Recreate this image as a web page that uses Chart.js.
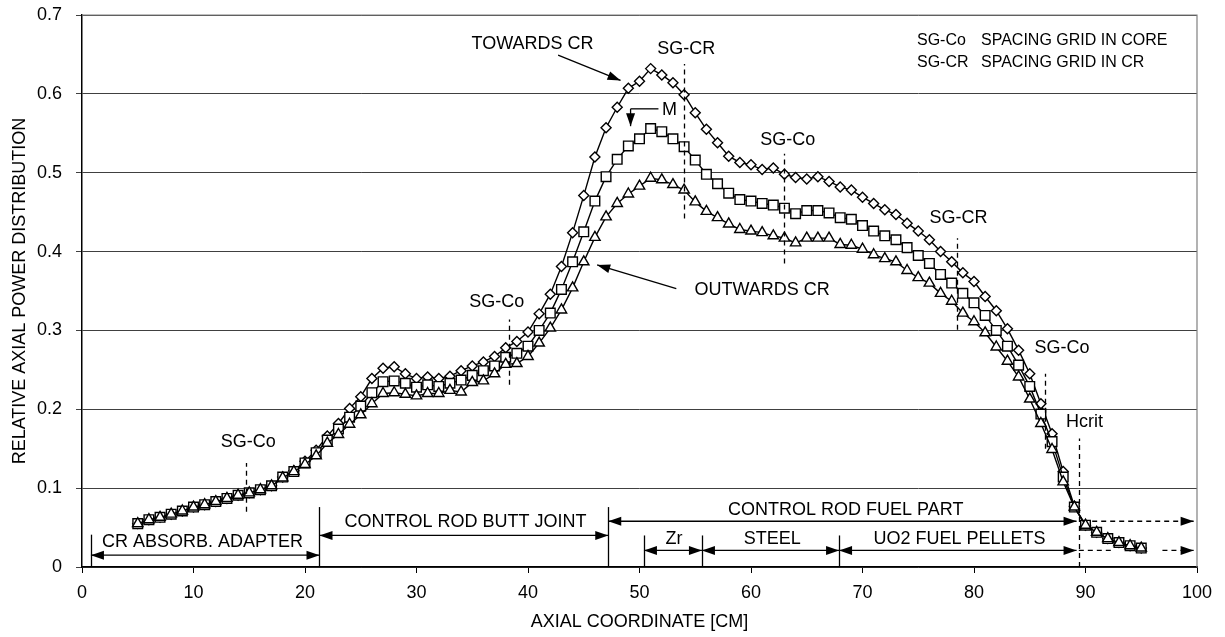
<!DOCTYPE html>
<html lang="en">
<head>
<meta charset="UTF-8" />
<title>Relative axial power distribution</title>
<script src="https://cdn.jsdelivr.net/npm/chart.js@4"></script>
<style>
  html, body { margin: 0; padding: 0; background: #fff; }
  #wrap { width: 1225px; height: 637px; }
</style>
</head>
<body>
<div id="wrap"><canvas id="powerChart" width="1225" height="637"></canvas></div>
<script>
  // axial coordinate of each measured point [cm]
  const axialCoord = [5, 6, 7, 8, 9, 10, 11, 12, 13, 14, 15, 16, 17, 18, 19, 20, 21, 22, 23, 24,
    25, 26, 27, 28, 29, 30, 31, 32, 33, 34, 35, 36, 37, 38, 39, 40, 41, 42, 43, 44,
    45, 46, 47, 48, 49, 50, 51, 52, 53, 54, 55, 56, 57, 58, 59, 60, 61, 62, 63, 64,
    65, 66, 67, 68, 69, 70, 71, 72, 73, 74, 75, 76, 77, 78, 79, 80, 81, 82, 83, 84,
    85, 86, 87, 88, 89, 90, 91, 92, 93, 94, 95];

  // diamonds - side towards the control rod
  const towardsCR = [0.055, 0.060, 0.063, 0.067, 0.071, 0.076, 0.079, 0.083, 0.087, 0.091,
    0.094, 0.098, 0.103, 0.114, 0.122, 0.134, 0.148, 0.166, 0.182, 0.201,
    0.216, 0.239, 0.252, 0.254, 0.245, 0.239, 0.241, 0.239, 0.242, 0.249,
    0.255, 0.260, 0.267, 0.278, 0.286, 0.298, 0.321, 0.346, 0.381, 0.424,
    0.471, 0.520, 0.557, 0.583, 0.607, 0.616, 0.632, 0.624, 0.614, 0.599,
    0.576, 0.555, 0.538, 0.521, 0.513, 0.510, 0.504, 0.506, 0.498, 0.494,
    0.492, 0.495, 0.489, 0.482, 0.478, 0.469, 0.461, 0.453, 0.447, 0.436,
    0.426, 0.415, 0.400, 0.387, 0.373, 0.362, 0.343, 0.325, 0.302, 0.275,
    0.245, 0.207, 0.169, 0.121, 0.077, 0.053, 0.044, 0.036, 0.031, 0.027, 0.024];

  // squares - middle (M)
  const middle = [0.055, 0.060, 0.063, 0.067, 0.071, 0.076, 0.079, 0.083, 0.087, 0.091,
    0.094, 0.098, 0.103, 0.114, 0.121, 0.132, 0.145, 0.161, 0.175, 0.190,
    0.204, 0.221, 0.235, 0.236, 0.233, 0.228, 0.231, 0.229, 0.233, 0.237,
    0.243, 0.249, 0.255, 0.266, 0.271, 0.280, 0.300, 0.322, 0.352, 0.387,
    0.425, 0.464, 0.495, 0.517, 0.534, 0.543, 0.556, 0.552, 0.543, 0.533,
    0.516, 0.498, 0.486, 0.474, 0.466, 0.464, 0.461, 0.459, 0.455, 0.448,
    0.452, 0.452, 0.449, 0.443, 0.441, 0.433, 0.426, 0.420, 0.415, 0.405,
    0.395, 0.385, 0.371, 0.360, 0.347, 0.335, 0.319, 0.300, 0.280, 0.256,
    0.229, 0.194, 0.159, 0.114, 0.076, 0.053, 0.044, 0.036, 0.031, 0.027, 0.024];

  // triangles - side outwards from the control rod
  const outwardsCR = [0.055, 0.060, 0.063, 0.067, 0.071, 0.076, 0.079, 0.083, 0.087, 0.091,
    0.094, 0.098, 0.103, 0.113, 0.121, 0.130, 0.141, 0.157, 0.168, 0.181,
    0.193, 0.207, 0.220, 0.221, 0.219, 0.217, 0.220, 0.220, 0.224, 0.222,
    0.234, 0.236, 0.245, 0.257, 0.258, 0.267, 0.284, 0.303, 0.326, 0.354,
    0.387, 0.418, 0.444, 0.461, 0.473, 0.483, 0.493, 0.491, 0.485, 0.478,
    0.463, 0.451, 0.443, 0.435, 0.428, 0.426, 0.424, 0.420, 0.417, 0.411,
    0.417, 0.417, 0.417, 0.409, 0.408, 0.403, 0.396, 0.391, 0.387, 0.376,
    0.367, 0.360, 0.347, 0.337, 0.322, 0.311, 0.297, 0.279, 0.261, 0.241,
    0.213, 0.182, 0.149, 0.108, 0.076, 0.053, 0.044, 0.036, 0.031, 0.027, 0.024];

  const xTicks = [0, 10, 20, 30, 40, 50, 60, 70, 80, 90, 100];
  const yTicks = [0, 0.1, 0.2, 0.3, 0.4, 0.5, 0.6, 0.7];

  const FONT = "'Liberation Sans', Arial, sans-serif";
  const FONT_SIZE = 18;
  Chart.defaults.font.family = FONT;
  Chart.defaults.font.size = FONT_SIZE;
  Chart.defaults.color = '#000';

  // annotations, in data coordinates
  const labels = [
    { t: 'SG-Co', x: 14.9, y: 0.158 },
    { t: 'SG-Co', x: 37.2, y: 0.336 },
    { t: 'SG-CR', x: 54.2, y: 0.657 },
    { t: 'SG-Co', x: 63.3, y: 0.541 },
    { t: 'SG-CR', x: 78.6, y: 0.443 },
    { t: 'SG-Co', x: 87.9, y: 0.278 },
    { t: 'Hcrit', x: 89.9, y: 0.184 },
    { t: 'M', x: 52.7, y: 0.580 },
    { t: 'TOWARDS CR', x: 40.4, y: 0.663 },
    { t: 'OUTWARDS CR', x: 61.0, y: 0.351 },
    { t: 'CR ABSORB. ADAPTER', x: 10.8, y: 0.032 },
    { t: 'CONTROL ROD BUTT JOINT', x: 34.4, y: 0.057 },
    { t: 'CONTROL ROD FUEL PART', x: 68.5, y: 0.072 },
    { t: 'Zr', x: 53.1, y: 0.036 },
    { t: 'STEEL', x: 61.9, y: 0.036 },
    { t: 'UO2 FUEL PELLETS', x: 78.7, y: 0.036 }
  ];
  // small key in the top right corner
  const keyLines = [
    { code: 'SG-Co', text: 'SPACING GRID IN CORE', y: 0.668 },
    { code: 'SG-CR', text: 'SPACING GRID IN CR', y: 0.640 }
  ];
  // spacing grid / Hcrit markers (dashed) and section borders (solid)
  const vLines = [
    { x: 14.7, y1: 0.070, y2: 0.132, dash: true },
    { x: 38.3, y1: 0.231, y2: 0.314, dash: true },
    { x: 54.0, y1: 0.442, y2: 0.638, dash: true },
    { x: 63.0, y1: 0.385, y2: 0.524, dash: true },
    { x: 78.5, y1: 0.301, y2: 0.417, dash: true },
    { x: 86.4, y1: 0.150, y2: 0.245, dash: true },
    { x: 89.4, y1: 0, y2: 0.163, dash: true },
    { x: 0.8, y1: 0, y2: 0.041 },
    { x: 21.3, y1: 0, y2: 0.076 },
    { x: 47.2, y1: 0, y2: 0.076 },
    { x: 50.4, y1: 0, y2: 0.040 },
    { x: 55.6, y1: 0, y2: 0.040 },
    { x: 67.9, y1: 0, y2: 0.040 }
  ];
  const arrows = [
    { x1: 0.8, y1: 0.015, x2: 21.3, y2: 0.015, start: true, end: true },
    { x1: 21.3, y1: 0.040, x2: 47.2, y2: 0.040, start: true, end: true },
    { x1: 47.2, y1: 0.058, x2: 89.2, y2: 0.058, start: true, end: true },
    { x1: 50.4, y1: 0.021, x2: 55.6, y2: 0.021, start: true, end: true },
    { x1: 55.6, y1: 0.021, x2: 67.9, y2: 0.021, start: true, end: true },
    { x1: 67.9, y1: 0.021, x2: 89.2, y2: 0.021, start: true, end: true },
    { x1: 90.6, y1: 0.058, x2: 99.7, y2: 0.058, end: true, dash: true },
    { x1: 89.4, y1: 0.021, x2: 92.3, y2: 0.021, dash: true },
    { x1: 96.9, y1: 0.021, x2: 99.7, y2: 0.021, end: true, dash: true },
    { x1: 42.7, y1: 0.649, x2: 48.3, y2: 0.617, end: true },
    { x1: 53.3, y1: 0.353, x2: 46.2, y2: 0.383, end: true },
    { x1: 51.7, y1: 0.581, x2: 49.2, y2: 0.581 },
    { x1: 49.2, y1: 0.581, x2: 49.2, y2: 0.559, end: true }
  ];

  function arrowHead(ctx, x, y, ang) {
    const len = 13, half = 4.5;
    ctx.beginPath();
    ctx.moveTo(x, y);
    ctx.lineTo(x - len * Math.cos(ang) + half * Math.sin(ang), y - len * Math.sin(ang) - half * Math.cos(ang));
    ctx.lineTo(x - len * Math.cos(ang) - half * Math.sin(ang), y - len * Math.sin(ang) + half * Math.cos(ang));
    ctx.closePath();
    ctx.fill();
  }

  const frame = {
    id: 'frame',
    beforeDatasetsDraw(chart) {
      const { ctx, chartArea: a } = chart;
      ctx.save();
      ctx.strokeStyle = '#808080';
      ctx.lineWidth = 1.2;
      ctx.beginPath();
      ctx.moveTo(a.left, a.top);
      ctx.lineTo(a.right, a.top);
      ctx.lineTo(a.right, a.bottom);
      ctx.stroke();
      ctx.restore();
    }
  };

  const notes = {
    id: 'notes',
    afterDatasetsDraw(chart) {
      const { ctx } = chart;
      const sx = v => chart.scales.x.getPixelForValue(v);
      const sy = v => chart.scales.y.getPixelForValue(v);
      ctx.save();
      ctx.strokeStyle = '#000';
      ctx.fillStyle = '#000';
      ctx.lineWidth = 1.3;

      vLines.forEach(l => {
        ctx.setLineDash(l.dash ? [5, 4] : []);
        ctx.beginPath();
        ctx.moveTo(Math.round(sx(l.x)) + 0.5, sy(l.y1));
        ctx.lineTo(Math.round(sx(l.x)) + 0.5, sy(l.y2));
        ctx.stroke();
      });

      arrows.forEach(a => {
        const x1 = sx(a.x1), y1 = sy(a.y1), x2 = sx(a.x2), y2 = sy(a.y2);
        const ang = Math.atan2(y2 - y1, x2 - x1);
        ctx.setLineDash(a.dash ? [5, 4] : []);
        ctx.beginPath();
        ctx.moveTo(x1, y1);
        ctx.lineTo(x2, y2);
        ctx.stroke();
        ctx.setLineDash([]);
        if (a.end) arrowHead(ctx, x2, y2, ang);
        if (a.start) arrowHead(ctx, x1, y1, ang + Math.PI);
      });

      ctx.setLineDash([]);
      ctx.font = FONT_SIZE + 'px ' + FONT;
      ctx.textBaseline = 'middle';
      labels.forEach(l => {
        ctx.textAlign = 'center';
        ctx.fillText(l.t, sx(l.x), sy(l.y));
      });

      ctx.font = '16px ' + FONT;
      ctx.textAlign = 'left';
      keyLines.forEach(k => {
        ctx.fillText(k.code, 917, sy(k.y));
        ctx.fillText(k.text, 981, sy(k.y));
      });
      ctx.restore();
    }
  };

  const common = {
    borderColor: '#000',
    borderWidth: 1.4,
    pointBackgroundColor: '#fff',
    pointBorderColor: '#000',
    pointBorderWidth: 1.4,
    tension: 0,
    fill: false
  };
  const pts = vals => axialCoord.map((x, i) => ({ x: x, y: vals[i] }));

  new Chart(document.getElementById('powerChart'), {
    type: 'line',
    data: {
      datasets: [
        Object.assign({ label: 'OUTWARDS CR', data: pts(outwardsCR), pointStyle: 'triangle', pointRadius: 6 }, common),
        Object.assign({ label: 'M', data: pts(middle), pointStyle: 'rect', pointRadius: 6.8 }, common),
        Object.assign({ label: 'TOWARDS CR', data: pts(towardsCR), pointStyle: 'rectRot', pointRadius: 5 }, common)
      ]
    },
    options: {
      responsive: false,
      animation: false,
      events: [],
      layout: { padding: { top: 15, right: 28, left: 0, bottom: 0 } },
      plugins: { legend: { display: false }, tooltip: { enabled: false } },
      scales: {
        x: {
          type: 'linear',
          min: 0,
          max: 100,
          afterBuildTicks: s => { s.ticks = xTicks.map(v => ({ value: v })); },
          afterFit: s => { s.height = 70; s.paddingLeft = 0; s.paddingRight = 0; },
          grid: { drawOnChartArea: false, drawTicks: true, tickLength: 6, color: '#000' },
          border: { color: '#000', width: 1.5 },
          ticks: { padding: 9, maxRotation: 0, font: { size: FONT_SIZE } },
          title: { display: true, text: 'AXIAL COORDINATE [CM]', padding: { top: 4, bottom: 4 }, font: { size: FONT_SIZE } }
        },
        y: {
          min: 0,
          max: 0.7,
          afterBuildTicks: s => { s.ticks = yTicks.map(v => ({ value: v })); },
          afterFit: s => { s.width = 82; s.paddingTop = 0; s.paddingBottom = 0; },
          grid: { color: '#404040', lineWidth: 1, tickLength: 6, drawTicks: true },
          border: { color: '#000', width: 1.5 },
          ticks: { padding: 14, callback: v => (v === 0 ? '0' : v.toFixed(1)), font: { size: FONT_SIZE } },
          title: { display: true, text: 'RELATIVE AXIAL POWER DISTRIBUTION', padding: { top: 9, bottom: 2 }, font: { size: FONT_SIZE } }
        }
      }
    },
    plugins: [frame, notes]
  });
</script>
</body>
</html>
